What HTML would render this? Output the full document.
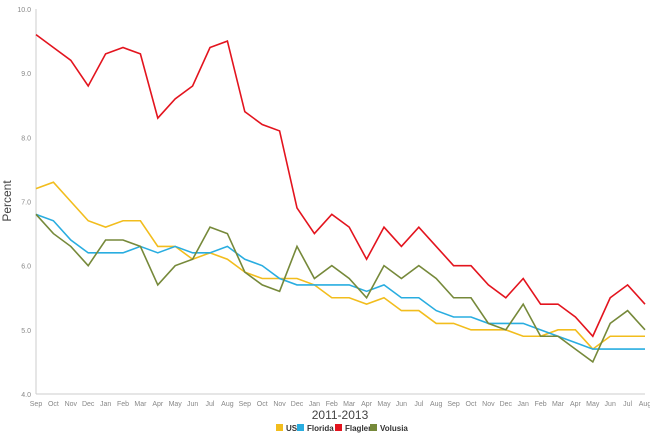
<!DOCTYPE html>
<html><head><meta charset="utf-8"><style>
body{margin:0;background:#fff;}
svg{display:block;font-family:"Liberation Sans",sans-serif;}
</style></head><body>
<svg id="chart" width="650" height="434" viewBox="0 0 650 434">
<g id="axes"></g><g id="lines"></g>
<text x="11" y="201" transform="rotate(-90 11 201)" text-anchor="middle" font-size="12" fill="#444">Percent</text>
<text x="340" y="419" text-anchor="middle" font-size="12" fill="#444">2011-2013</text>
<g font-size="8" font-weight="bold" fill="#333">
<rect x="276" y="424" width="7" height="7" fill="#f2bd1d"/><text x="286" y="431">US</text>
<rect x="297" y="424" width="7" height="7" fill="#29ade0"/><text x="307" y="431">Florida</text>
<rect x="335" y="424" width="7" height="7" fill="#e3141e"/><text x="345" y="431">Flagler</text>
<rect x="370" y="424" width="7" height="7" fill="#76893a"/><text x="380" y="431">Volusia</text>
</g>
</svg>
<script>
const months=["Sep","Oct","Nov","Dec","Jan","Feb","Mar","Apr","May","Jun","Jul","Aug","Sep","Oct","Nov","Dec","Jan","Feb","Mar","Apr","May","Jun","Jul","Aug","Sep","Oct","Nov","Dec","Jan","Feb","Mar","Apr","May","Jun","Jul","Aug"];
const yTicks=[4,5,6,7,8,9,10];
const flagler=[9.6,9.4,9.2,8.8,9.3,9.4,9.3,8.3,8.6,8.8,9.4,9.5,8.4,8.2,8.1,6.9,6.5,6.8,6.6,6.1,6.6,6.3,6.6,6.3,6.0,6.0,5.7,5.5,5.8,5.4,5.4,5.2,4.9,5.5,5.7,5.4];
const us=[7.2,7.3,7.0,6.7,6.6,6.7,6.7,6.3,6.3,6.1,6.2,6.1,5.9,5.8,5.8,5.8,5.7,5.5,5.5,5.4,5.5,5.3,5.3,5.1,5.1,5.0,5.0,5.0,4.9,4.9,5.0,5.0,4.7,4.9,4.9,4.9];
const florida=[6.8,6.7,6.4,6.2,6.2,6.2,6.3,6.2,6.3,6.2,6.2,6.3,6.1,6.0,5.8,5.7,5.7,5.7,5.7,5.6,5.7,5.5,5.5,5.3,5.2,5.2,5.1,5.1,5.1,5.0,4.9,4.8,4.7,4.7,4.7,4.7];
const volusia=[6.8,6.5,6.3,6.0,6.4,6.4,6.3,5.7,6.0,6.1,6.6,6.5,5.9,5.7,5.6,6.3,5.8,6.0,5.8,5.5,6.0,5.8,6.0,5.8,5.5,5.5,5.1,5.0,5.4,4.9,4.9,4.7,4.5,5.1,5.3,5.0];
const NS="http://www.w3.org/2000/svg";
const X0=36,X1=645,Y0=394,Y1=9,YMIN=4,YMAX=10;
const xs=i=>X0+(X1-X0)*i/(months.length-1);
const ys=v=>Y0-(v-YMIN)/(YMAX-YMIN)*(Y0-Y1);
const axes=document.getElementById('axes'),lines=document.getElementById('lines');
function mk(t,a){const e=document.createElementNS(NS,t);for(const k in a)e.setAttribute(k,a[k]);return e;}
const ya=mk('line',{x1:X0,y1:Y1,x2:X0,y2:Y0,stroke:'#ccc','stroke-width':1});


axes.appendChild(ya);
const xa=mk('line',{x1:X0,y1:Y0,x2:X1,y2:Y0,stroke:'#ccc','stroke-width':1});


axes.appendChild(xa);
yTicks.forEach(v=>{const t=mk('text',{x:X0-5,y:ys(v)+3,'text-anchor':'end','font-size':7,fill:'#888'});t.textContent=v.toFixed(1);


axes.appendChild(t);});
months.forEach((m,i)=>{const t=mk('text',{x:xs(i),y:406,'text-anchor':'middle','font-size':7,fill:'#888'});t.textContent=m;


axes.appendChild(t);});
[["us-line",us,"#f2bd1d"],["florida-line",florida,"#29ade0"],["volusia-line",volusia,"#76893a"],["flagler-line",flagler,"#e3141e"]].forEach(([n,d,c])=>{
const p=mk('polyline',{points:d.map((v,i)=>xs(i)+','+ys(v)).join(' '),fill:'none',stroke:c,'stroke-width':1.6});


lines.appendChild(p);});
</script>
</body></html>
